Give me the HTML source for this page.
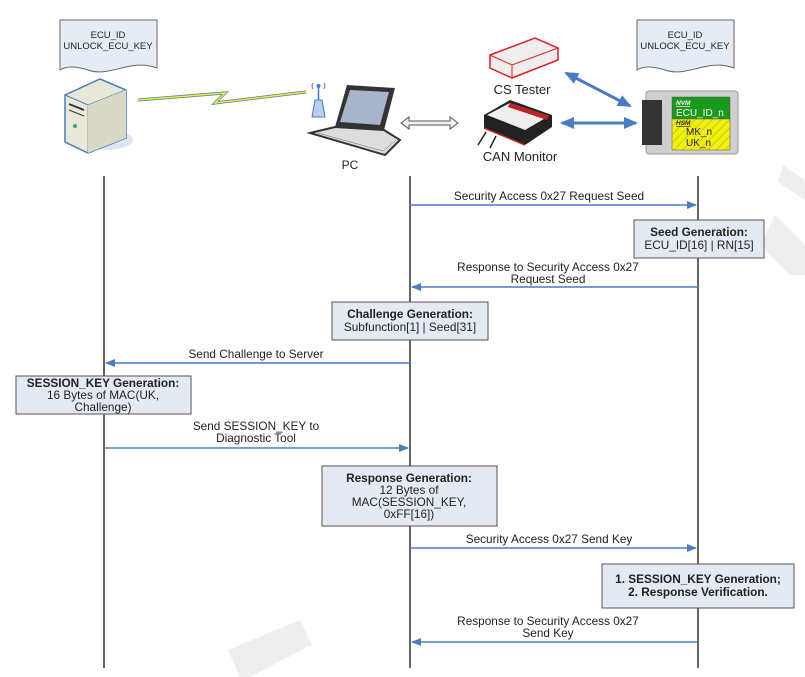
<!DOCTYPE html>
<html><head><meta charset="utf-8"><style>
html,body{margin:0;padding:0;background:#fff;}
svg{display:block;font-family:"Liberation Sans",Arial,sans-serif;}
</style></head><body>
<svg width="805" height="677" viewBox="0 0 805 677" xmlns="http://www.w3.org/2000/svg">
<defs>
<marker id="ah" markerWidth="10" markerHeight="8" refX="9" refY="4" orient="auto" markerUnits="userSpaceOnUse"><path d="M0,0 L10,4 L0,8 z" fill="#4a7cc4"/></marker>
<marker id="bh" markerWidth="14" markerHeight="12" refX="12" refY="6" orient="auto-start-reverse" markerUnits="userSpaceOnUse"><path d="M0,0 L14,6 L0,12 z" fill="#4a7cc4"/></marker>
<pattern id="hatch" width="6" height="6" patternUnits="userSpaceOnUse" patternTransform="rotate(45)"><rect width="6" height="6" fill="#f2f200"/><line x1="0" y1="0" x2="0" y2="6" stroke="#b5b560" stroke-width="1.5"/></pattern>
</defs>
<!-- watermark -->
<path d="M775,215 L805,245 L805,275 L790,275 L760,245 z" fill="#eee"/>
<path d="M783,165 L805,180 L805,200 L778,182 z" fill="#eee"/>
<path d="M228,650 L300,620 L312,645 L250,677 L240,677 z" fill="#eee"/>

<!-- documents -->
<path d="M60,20 H157 V68 C130,58 110,78 88,70 C75,66 66,66 60,70 z" fill="#e6ecf6" stroke="#666" stroke-width="1"/>
<text x="108" y="38" font-size="9.5" text-anchor="middle" fill="#222">ECU_ID</text>
<text x="108" y="49" font-size="9.5" text-anchor="middle" fill="#222">UNLOCK_ECU_KEY</text>
<path d="M637,20 H734 V68 C707,58 687,78 665,70 C652,66 643,66 637,70 z" fill="#e6ecf6" stroke="#666" stroke-width="1"/>
<text x="685" y="38" font-size="9.5" text-anchor="middle" fill="#222">ECU_ID</text>
<text x="685" y="49" font-size="9.5" text-anchor="middle" fill="#222">UNLOCK_ECU_KEY</text>

<!-- server -->
<ellipse cx="105" cy="140" rx="28" ry="10" fill="#dde6f2"/>
<path d="M65,95 L100,79 L126,90 L126,138 L88,153 L65,142 z" fill="#e8e8d8" stroke="#4a7cc4" stroke-width="1.5"/>
<path d="M65,95 L88,105 L126,90" fill="none" stroke="#4a7cc4" stroke-width="1"/>
<path d="M88,105 L88,153" stroke="#999" stroke-width="1"/>
<path d="M88,105 L126,90 L126,138 L88,153 z" fill="#d8d8c4"/>
<line x1="69" y1="104" x2="84" y2="110" stroke="#333" stroke-width="2"/>
<line x1="69" y1="110" x2="84" y2="116" stroke="#333" stroke-width="1"/>
<circle cx="75" cy="126" r="2" fill="#3a7"/>

<!-- lightning -->
<path d="M138,100 L225,93 L215,103 L306,92" fill="none" stroke="#4a7cc4" stroke-width="3"/>
<path d="M138,100 L225,93 L215,103 L306,92" fill="none" stroke="#f0f020" stroke-width="1.5"/>

<!-- antenna + laptop -->
<path d="M312,117 L315,100 L322,100 L325,117 z" fill="#b8d0ec" stroke="#4a7cc4"/>
<line x1="318.5" y1="100" x2="318.5" y2="86" stroke="#4a7cc4" stroke-width="1.5"/>
<circle cx="318.5" cy="86" r="2" fill="#4a7cc4"/>
<path d="M313,83 Q311,86 313,89 M324,83 Q326,86 324,89" stroke="#4a7cc4" fill="none"/>
<path d="M347,85 L395,88 L384,130 L335,127 z" fill="#333"/>
<path d="M350,90 L389,92 L380,125 L340,122 z" fill="#a8b4cc"/>
<path d="M335,127 L384,130 L400,140 L385,155 L310,133 z" fill="#ddd" stroke="#333" stroke-width="2"/>
<path d="M318,133 L383,151 L396,140" fill="none" stroke="#666" stroke-width="0.5"/>
<text x="350" y="169" font-size="12" text-anchor="middle" fill="#222">PC</text>

<!-- hollow double arrow -->
<path d="M401,123 L409,117 L409,121 L450,121 L450,117 L458,123 L450,129 L450,125 L409,125 L409,129 z" fill="#eef2f8" stroke="#555" stroke-width="1"/>

<!-- CS tester -->
<path d="M490,55 L535,38 L558,48 L558,60 L512,78 L490,68 z" fill="#eee" stroke="#e02020" stroke-width="1.5"/>
<path d="M490,55 L512,65 L558,48 M512,65 L512,78" fill="none" stroke="#e02020" stroke-width="1"/>
<text x="522" y="94" font-size="13" text-anchor="middle" fill="#222">CS Tester</text>

<!-- CAN monitor -->
<path d="M484,115 L510,100 L552,115 L552,127 L525,145 L484,128 z" fill="#222"/>
<path d="M487,115 L510,103 L549,116 L525,130 z" fill="#eee"/>
<path d="M510,103 L549,116 L547,120 L508,107 z" fill="#c02020"/>
<line x1="484" y1="128" x2="525" y2="145" stroke="#c02020" stroke-width="1.5"/>
<line x1="478" y1="145" x2="486" y2="132" stroke="#222" stroke-width="1.5"/>
<line x1="490" y1="148" x2="496" y2="136" stroke="#222" stroke-width="1.5"/>
<text x="520" y="161" font-size="13" text-anchor="middle" fill="#222">CAN Monitor</text>

<!-- blue double arrows -->
<line x1="566" y1="73" x2="630" y2="106" stroke="#4a7cc4" stroke-width="3" marker-start="url(#bh)" marker-end="url(#bh)"/>
<line x1="562" y1="123" x2="636" y2="123" stroke="#4a7cc4" stroke-width="3" marker-start="url(#bh)" marker-end="url(#bh)"/>

<!-- ECU -->
<rect x="646" y="91" width="92" height="63" rx="3" fill="#cfcfcf" stroke="#999"/>
<rect x="642" y="100" width="20" height="45" fill="#333"/>
<rect x="672" y="97" width="58" height="22" fill="#1a9a1a" stroke="#555" stroke-width="0.5"/>
<rect x="672" y="119" width="58" height="31" fill="url(#hatch)" stroke="#555" stroke-width="0.5"/>
<text x="676" y="105" font-size="6.5" font-style="italic" font-weight="bold" fill="#fff" text-decoration="underline">NVM</text>
<text x="676" y="116" font-size="10" fill="#fff">ECU_ID_n</text>
<text x="676" y="125" font-size="6.5" font-style="italic" font-weight="bold" fill="#222" text-decoration="underline">HSM</text>
<text x="686" y="135" font-size="10" fill="#222">MK_n</text>
<text x="686" y="146" font-size="10" fill="#222">UK_n</text>

<!-- lifelines -->
<g stroke="#333" stroke-width="1.5">
<line x1="104" y1="176" x2="104" y2="668"/>
<line x1="410" y1="176" x2="410" y2="668"/>
<line x1="698" y1="176" x2="698" y2="668"/>
</g>

<!-- messages -->
<g stroke="#4a7cc4" stroke-width="1.5" marker-end="url(#ah)">
<line x1="410" y1="205" x2="696" y2="205"/>
<line x1="698" y1="287" x2="412" y2="287"/>
<line x1="410" y1="363" x2="106" y2="363"/>
<line x1="104" y1="448" x2="408" y2="448"/>
<line x1="410" y1="548" x2="696" y2="548"/>
<line x1="698" y1="642" x2="412" y2="642"/>
</g>
<g font-size="11.8" fill="#222" text-anchor="middle">
<text x="549" y="200">Security Access 0x27 Request Seed</text>
<text x="548" y="271">Response to Security Access 0x27</text>
<text x="548" y="283">Request Seed</text>
<text x="256" y="358">Send Challenge to Server</text>
<text x="256" y="430">Send SESSION_KEY to</text>
<text x="256" y="442">Diagnostic Tool</text>
<text x="549" y="543">Security Access 0x27 Send Key</text>
<text x="548" y="625">Response to Security Access 0x27</text>
<text x="548" y="637">Send Key</text>
</g>

<!-- boxes -->
<g fill="#e4eaf4" stroke="#555" stroke-width="1">
<rect x="634" y="220" width="130" height="38"/>
<rect x="332" y="302" width="156" height="38"/>
<rect x="16" y="376" width="175" height="38"/>
<rect x="322" y="466" width="175" height="60"/>
<rect x="602" y="564" width="192" height="44"/>
</g>
<g font-size="11.8" fill="#222" text-anchor="middle">
<text x="699" y="236" font-weight="bold">Seed Generation:</text>
<text x="699" y="249">ECU_ID[16] | RN[15]</text>
<text x="410" y="318" font-weight="bold">Challenge Generation:</text>
<text x="410" y="331">Subfunction[1] | Seed[31]</text>
<text x="103" y="387" font-weight="bold">SESSION_KEY Generation:</text>
<text x="103" y="399">16 Bytes of MAC(UK,</text>
<text x="103" y="411">Challenge)</text>
<text x="409" y="482" font-weight="bold">Response Generation:</text>
<text x="409" y="494">12 Bytes of</text>
<text x="409" y="506">MAC(SESSION_KEY,</text>
<text x="409" y="518">0xFF[16])</text>
<text x="698" y="583" font-weight="bold">1. SESSION_KEY Generation;</text>
<text x="698" y="596" font-weight="bold">2. Response Verification.</text>
</g>
</svg>
</body></html>
